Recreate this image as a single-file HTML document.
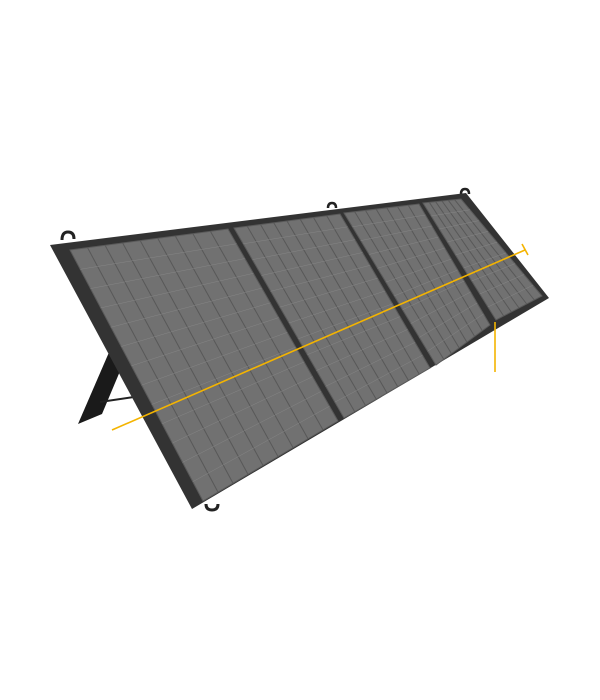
<!DOCTYPE html>
<html><head><meta charset="utf-8"><style>html,body{margin:0;padding:0;background:#fff;width:600px;height:700px;overflow:hidden}</style></head>
<body>
<svg id="s" width="600" height="700" viewBox="0 0 600 700" xmlns="http://www.w3.org/2000/svg">
<polygon points="110,350 123,364 102,414 78,424" fill="#1a1a1a"/>
<line x1="100" y1="402" x2="134" y2="397" stroke="#222" stroke-width="2"/>
<path d="M62,240 q0,-8 6,-8 q6,0 6,7" fill="none" stroke="#222" stroke-width="3"/>
<path d="M328,208 q0,-5 4,-5 q4,0 4,5" fill="none" stroke="#222" stroke-width="2.5"/>
<path d="M461,194 q0,-5 4,-5 q4,0 4,5" fill="none" stroke="#222" stroke-width="2.5"/>
<path d="M206,504 q0,6 6,6 q6,0 6,-6" fill="none" stroke="#222" stroke-width="3"/>
<polygon points="50,245 466,193 549,298 192,509" fill="#333"/>
<g id="p"></g>
<line x1="112" y1="430" x2="525" y2="250" stroke="#f4b400" stroke-width="1.6"/>
<line x1="522" y1="244" x2="528" y2="255" stroke="#f4b400" stroke-width="1.6"/>
<line x1="495" y1="322" x2="495" y2="372" stroke="#f4b400" stroke-width="1.6"/>
</svg>
<script>
var g=document.getElementById('p'),NS='http://www.w3.org/2000/svg';
function L(a,b,t){return [a[0]+(b[0]-a[0])*t,a[1]+(b[1]-a[1])*t];}
function bl(q,u,v){var top=L(q[0],q[1],u),bot=L(q[3],q[2],u);return L(top,bot,v);}
function el(n,at){var e=document.createElementNS(NS,n);for(var k in at)e.setAttribute(k,at[k]);g.appendChild(e);return e;}
var panels=[
 [[70,250],[228,229],[338,421],[203,501],9,13],
 [[234,228],[340,214],[430,368],[344,418],8,12],
 [[344,213],[419,204],[490,325],[436,365],7,11],
 [[423,203],[461,199],[542,296],[496,320],6,9]
];
panels.forEach(function(p){
 var q=[p[0],p[1],p[2],p[3]];
 el('polygon',{points:q.map(function(a){return a.join(',')}).join(' '),fill:'#717171',stroke:'#5a5a5a','stroke-width':1});
 for(var i=1;i<p[4];i++){var a=bl(q,i/p[4],0),b=bl(q,i/p[4],1);
  el('line',{x1:a[0],y1:a[1],x2:b[0],y2:b[1],stroke:'#585858','stroke-width':1});}
 for(var j=1;j<p[5];j++){var a=bl(q,0,j/p[5]),b=bl(q,1,j/p[5]);
  el('line',{x1:a[0],y1:a[1],x2:b[0],y2:b[1],stroke:'#868686','stroke-width':0.5});}
});
</script>
</body></html>
